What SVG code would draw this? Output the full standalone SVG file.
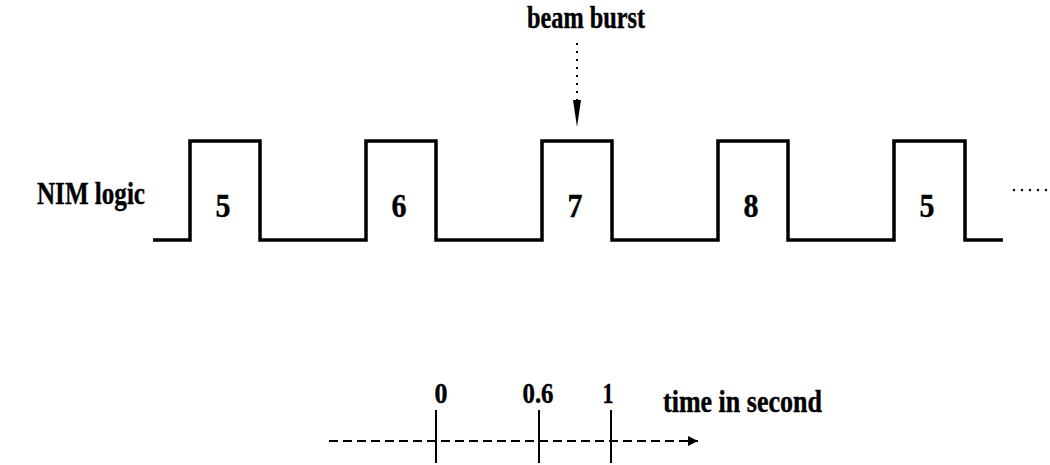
<svg xmlns="http://www.w3.org/2000/svg" width="1050" height="465" viewBox="0 0 1050 465">
  <style>
    .lbl { font-family: "Liberation Serif", "Times New Roman", serif; font-weight: bold; font-size: 31px; fill: #000; stroke: #000; stroke-width: 0.4; }
    .num { font-family: "Liberation Serif", "Times New Roman", serif; font-weight: bold; font-size: 29px; fill: #000; stroke: #000; stroke-width: 0.4; text-anchor: middle; }
    .big { font-size: 33px; }
    .wave { fill: none; stroke: #000; stroke-width: 3.5; stroke-linejoin: miter; }
    .tick { stroke: #000; stroke-width: 2; }
  </style>
  <defs>
    <marker id="headFilled" viewBox="0 0 10 10" refX="10" refY="5" markerWidth="12" markerHeight="10" markerUnits="userSpaceOnUse" orient="auto">
      <path d="M0,0 L10,5 L0,10 z" fill="#000"/>
    </marker>
  </defs>

  <rect width="1050" height="465" fill="#fff"/>

  <!-- signal name -->
  <g id="signal-label">
    <text class="lbl" x="37" y="204" textLength="108" lengthAdjust="spacingAndGlyphs">NIM logic</text>
  </g>

  <!-- NIM logic pulse train -->
  <g id="pulse-train">
    <path class="wave" d="M153,240 H190 V141 H260 V240 H366 V141 H436 V240 H542 V141 H612 V240 H718 V141 H788 V240 H894 V141 H965 V240 H1003"/>
  </g>

  <g id="pulse-1"><text class="num big" x="223" y="217" textLength="15" lengthAdjust="spacingAndGlyphs">5</text></g>
  <g id="pulse-2"><text class="num big" x="399" y="217" textLength="15" lengthAdjust="spacingAndGlyphs">6</text></g>
  <g id="pulse-3"><text class="num big" x="575" y="217" textLength="15" lengthAdjust="spacingAndGlyphs">7</text></g>
  <g id="pulse-4"><text class="num big" x="751" y="217" textLength="15" lengthAdjust="spacingAndGlyphs">8</text></g>
  <g id="pulse-5"><text class="num big" x="927" y="217" textLength="15" lengthAdjust="spacingAndGlyphs">5</text></g>

  <!-- continuation dots -->
  <g id="continuation" fill="#000">
    <circle cx="1014" cy="190" r="1.2"/>
    <circle cx="1022" cy="190" r="1.2"/>
    <circle cx="1030" cy="190" r="1.2"/>
    <circle cx="1038" cy="190" r="1.2"/>
    <circle cx="1046" cy="190" r="1.2"/>
  </g>

  <!-- beam burst annotation -->
  <g id="beam-burst">
    <text class="lbl" x="527" y="28" textLength="118" lengthAdjust="spacingAndGlyphs">beam burst</text>
  </g>

  <!-- time axis -->
  <g id="time-axis">
    <text class="num" x="441" y="403" textLength="13" lengthAdjust="spacingAndGlyphs">0</text>
    <text class="num" x="538" y="403" textLength="31" lengthAdjust="spacingAndGlyphs">0.6</text>
    <text class="num" x="608" y="403" textLength="11" lengthAdjust="spacingAndGlyphs">1</text>
    <text class="lbl" x="663" y="412" textLength="159" lengthAdjust="spacingAndGlyphs">time in second</text>
    <line class="tick" x1="436" y1="410" x2="436" y2="463"/>
    <line class="tick" x1="539" y1="410" x2="539" y2="463"/>
    <line class="tick" x1="611" y1="410" x2="611" y2="463"/>
  </g>

  <!-- connectors -->
  <g id="connectors">
    <line x1="577" y1="43" x2="577" y2="102" stroke="#000" stroke-width="2" stroke-dasharray="2 6"/>
    <path d="M573,100 L581,100 L577,127 z" fill="#000"/>
    <line x1="329" y1="441" x2="698" y2="441" stroke="#000" stroke-width="2" stroke-dasharray="9 5" marker-end="url(#headFilled)"/>
  </g>
</svg>
